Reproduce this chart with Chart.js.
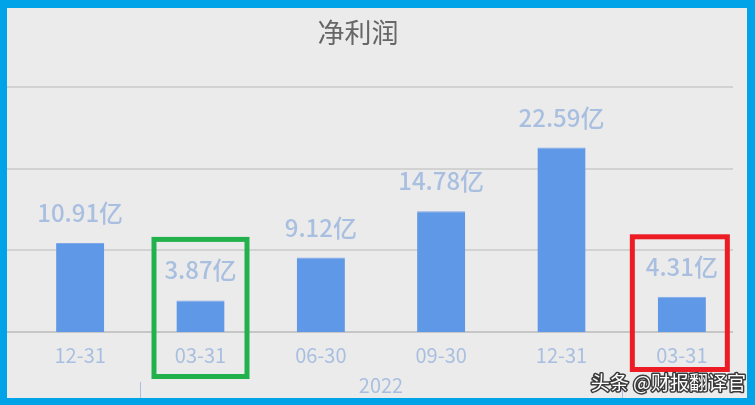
<!DOCTYPE html>
<html>
<head>
<meta charset="utf-8">
<script src="https://cdn.jsdelivr.net/npm/chart.js@4.4.1/dist/chart.umd.min.js"></script>
<style>
  html, body { margin: 0; padding: 0; background: #00a2e8; }
  #frame {
    width: 755px; height: 405px; box-sizing: border-box;
    border-style: solid; border-color: #00a2e8; border-width: 8px 8px 7px 7px;
    background: #ebebeb;
  }
  #wrap { position: relative; width: 740px; height: 390px; }
</style>
</head>
<body>
<div id="frame"><div id="wrap"><canvas id="c"></canvas></div></div>
<script>
const categories = ['12-31', '03-31', '06-30', '09-30', '12-31', '03-31'];
const netProfit = [10.91, 3.87, 9.12, 14.78, 22.59, 4.31];   // 亿
const yTicks = [0, 10, 20, 30];
const yearLabel = '2022';
const yearRange = [1, 4];   // first and last category under the year label

const FONT = '"Noto Sans CJK SC", "Noto Sans", sans-serif';
const LABEL_COLOR = '#a9bfe0';

// title, grid lines, value labels, year row, marker boxes, watermark
const decor = {
  id: 'decor',
  beforeDatasetsDraw(chart) {
    const ctx = chart.ctx, y = chart.scales.y;
    ctx.save();
    yTicks.forEach(v => {
      const py = Math.round(y.getPixelForValue(v));
      ctx.strokeStyle = v === 0 ? '#c6c6c6' : '#d2d2d2';
      ctx.lineWidth = 2;
      ctx.beginPath();
      ctx.moveTo(0, py);
      ctx.lineTo(726, py);
      ctx.stroke();
    });
    ctx.restore();
  },
  afterDatasetsDraw(chart) {
    const ctx = chart.ctx, x = chart.scales.x, area = chart.chartArea;
    const bars = chart.getDatasetMeta(0).data;
    ctx.save();

    // title
    ctx.fillStyle = '#666';
    ctx.font = '27px ' + FONT;
    ctx.textAlign = 'center';
    ctx.textBaseline = 'middle';
    ctx.fillText('净利润', 351, 25);

    // value labels
    ctx.fillStyle = LABEL_COLOR;
    ctx.font = '500 24px ' + FONT;
    ctx.textBaseline = 'alphabetic';
    bars.forEach((b, i) => {
      ctx.fillText(netProfit[i].toFixed(2) + '亿', b.x, b.y - 21);
    });

    // year row
    const cx = (x.getPixelForValue(yearRange[0]) + x.getPixelForValue(yearRange[1])) / 2;
    ctx.font = '20px ' + FONT;
    ctx.textBaseline = 'middle';
    ctx.fillText(yearLabel, cx, 377);
    ctx.strokeStyle = LABEL_COLOR;
    ctx.lineWidth = 1;
    [yearRange[0] - 0.5, yearRange[1] + 0.5].forEach(v => {
      const px = Math.round(x.getPixelForValue(v)) + 0.5;
      ctx.beginPath();
      ctx.moveTo(px, 374);
      ctx.lineTo(px, 390);
      ctx.stroke();
    });

    // hand drawn marker boxes
    const boxes = [
      { index: 1, color: '#22b14c', dx: 0, half: 46.5, top: -61, bottom: 44.5 },
      { index: 5, color: '#ed1c24', dx: -2, half: 47.5, top: -60, bottom: 37.5 }
    ];
    ctx.lineWidth = 5;
    boxes.forEach(bx => {
      const b = bars[bx.index];
      const c = b.x + bx.dx;
      ctx.strokeStyle = bx.color;
      ctx.strokeRect(c - bx.half, b.y + bx.top, bx.half * 2, area.bottom + bx.bottom - (b.y + bx.top));
    });

    // watermark
    ctx.font = '19px ' + FONT;
    ctx.textAlign = 'right';
    ctx.textBaseline = 'alphabetic';
    ctx.lineJoin = 'round';
    ctx.lineWidth = 3;
    ctx.strokeStyle = '#3a3a3a';
    ctx.strokeText('头条 @财报翻译官', 739, 382);
    ctx.fillStyle = '#ffffff';
    ctx.fillText('头条 @财报翻译官', 739, 382);
    ctx.restore();
  }
};

new Chart(document.getElementById('c'), {
  type: 'bar',
  data: {
    labels: categories,
    datasets: [{
      data: netProfit,
      backgroundColor: '#5f98e6',
      borderColor: '#7ea9e9',
      borderWidth: { top: 1, left: 0, right: 0, bottom: 0 },
      borderSkipped: false,
      categoryPercentage: 1,
      barPercentage: 0.4
    }]
  },
  options: {
    responsive: true,
    maintainAspectRatio: false,
    animation: false,
    layout: { padding: { left: 13, right: 5, top: 79, bottom: 0 } },
    plugins: {
      legend: { display: false },
      title: { display: false },
      tooltip: { enabled: false }
    },
    scales: {
      x: {
        grid: { display: false, drawTicks: false },
        border: { display: false },
        ticks: { color: LABEL_COLOR, font: { family: FONT, size: 20 }, padding: 11 },
        afterFit: s => { s.height = 66; }
      },
      y: { display: false, min: 0, max: 30 }
    }
  },
  plugins: [decor]
});
</script>
</body>
</html>
